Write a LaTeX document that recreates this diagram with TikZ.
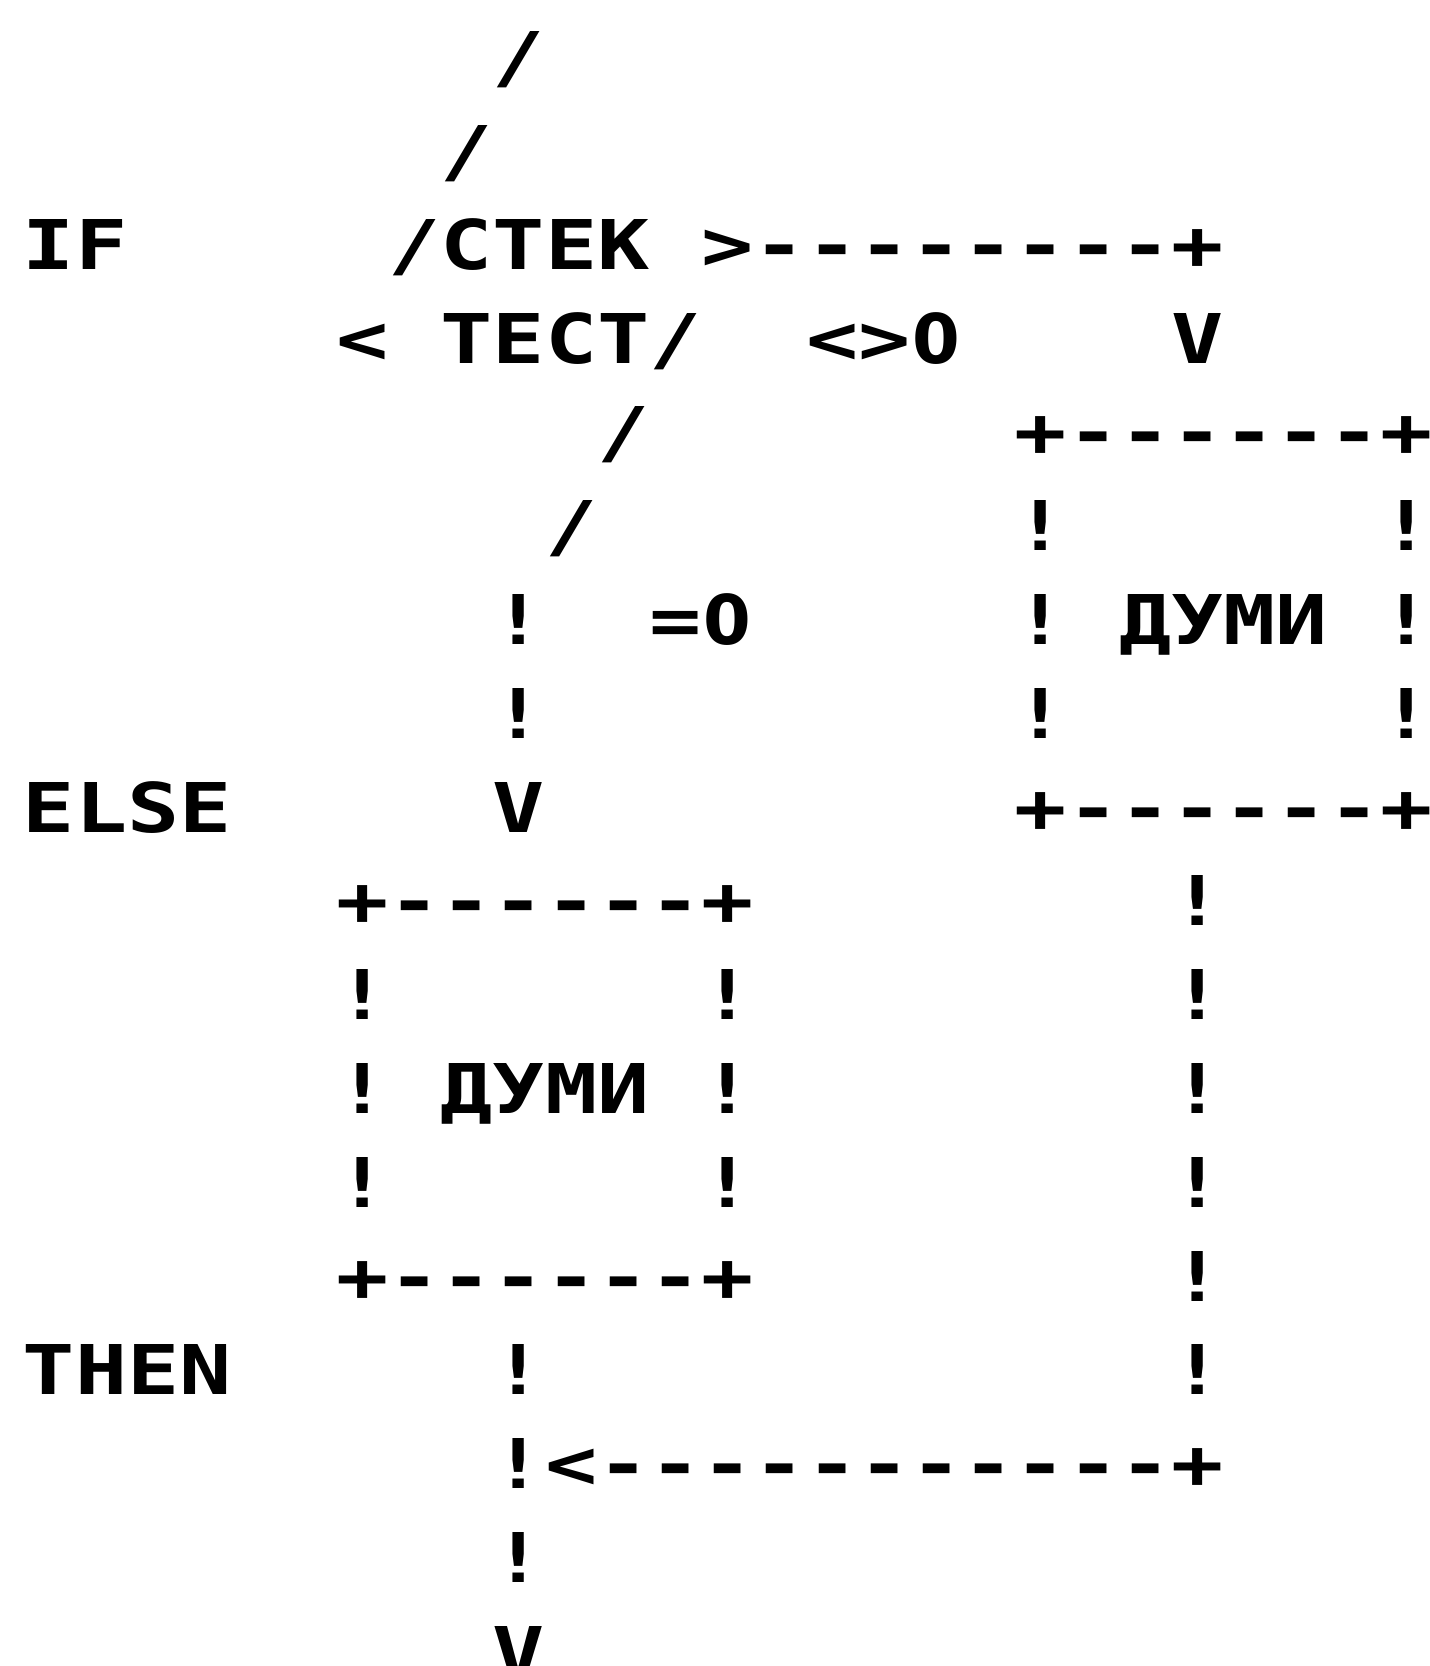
\documentclass[tikz,border=0pt]{standalone}
\usepackage{fontspec}
\setmonofont{DejaVu Sans Mono}
\newfontfamily\digitfam{DejaVu Sans}
% one character cell: 52.2 x 93.8 units, text rows on a fixed baseline grid
\newcommand\tx[4]{\node[glyph] (#1) at ({23+52.2*(#2)},{81.7+93.8*(#3)}) {\scalebox{1.264}[1]{#4}};}
\newcommand\zero[3]{\node[digit] (#1) at ({49+52.2*(#2)},{81.7+93.8*(#3)}) {0};}
\newcommand\hy{-\kern0pt}
\begin{document}
\begin{tikzpicture}[x=0.5pt,y=-0.5pt,
  glyph/.style={anchor=base west,inner sep=0pt,outer sep=0pt,
    font={\ttfamily\bfseries\fontsize{34.3pt}{40pt}\selectfont}},
  digit/.style={anchor=base,inner sep=0pt,outer sep=0pt,
    font={\digitfam\bfseries\fontsize{34.3pt}{40pt}\selectfont}}]
\clip (0,0) rectangle (1430,1666);
\fill[white] (0,0) rectangle (1430,1666);

% test branch
\tx{s0}{9}{0}{/}
\tx{s1}{8}{1}{/}
\tx{kwif}{0}{2}{IF}
\tx{stack}{7}{2}{/CTEK}
\tx{ne}{13}{2}{>\hy\hy\hy\hy\hy\hy\hy\hy+}
\tx{lt}{6}{3}{<}
\tx{test}{8}{3}{TECT/}
\tx{neq}{15}{3}{<>}
\zero{neqz}{17}{3}
\tx{nev}{22}{3}{V}
\tx{s4}{11}{4}{/}
\tx{s5}{10}{5}{/}

% right box
\tx{rtop}{19}{4}{+\hy\hy\hy\hy\hy\hy+}
\tx{rl5}{19}{5}{!}
\tx{rr5}{26}{5}{!}
\tx{rl6}{19}{6}{!}
\tx{rtxt}{21}{6}{ДУМИ}
\tx{rr6}{26}{6}{!}
\tx{rl7}{19}{7}{!}
\tx{rr7}{26}{7}{!}
\tx{rbot}{19}{8}{+\hy\hy\hy\hy\hy\hy+}

% equal-zero branch
\tx{m6}{9}{6}{!}
\tx{eq}{12}{6}{=}
\zero{eqz}{13}{6}
\tx{m7}{9}{7}{!}
\tx{kwelse}{0}{8}{ELSE}
\tx{m8}{9}{8}{V}

% left box
\tx{ltop}{6}{9}{+\hy\hy\hy\hy\hy\hy+}
\tx{ll10}{6}{10}{!}
\tx{lr10}{13}{10}{!}
\tx{ll11}{6}{11}{!}
\tx{ltxt}{8}{11}{ДУМИ}
\tx{lr11}{13}{11}{!}
\tx{ll12}{6}{12}{!}
\tx{lr12}{13}{12}{!}
\tx{lbot}{6}{13}{+\hy\hy\hy\hy\hy\hy+}

% right return line
\tx{r9}{22}{9}{!}
\tx{r10}{22}{10}{!}
\tx{r11}{22}{11}{!}
\tx{r12}{22}{12}{!}
\tx{r13}{22}{13}{!}
\tx{r14}{22}{14}{!}

% join and exit
\tx{kwthen}{0}{14}{THEN}
\tx{m14}{9}{14}{!}
\tx{join}{9}{15}{!<\hy\hy\hy\hy\hy\hy\hy\hy\hy\hy\hy+}
\tx{m16}{9}{16}{!}
\tx{m17}{9}{17}{V}
\end{tikzpicture}
\end{document}
